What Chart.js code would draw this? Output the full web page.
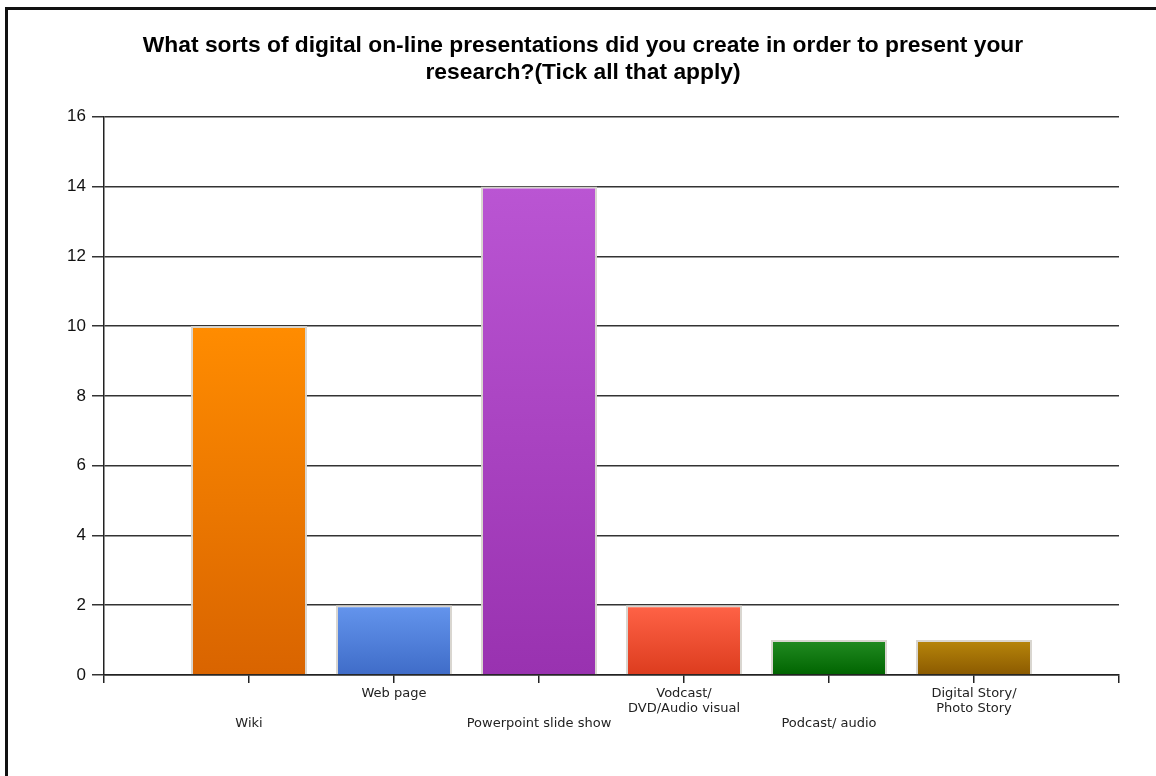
<!DOCTYPE html>
<html>
<head>
<meta charset="utf-8">
<title>Digital on-line presentations</title>
<script src="https://cdn.jsdelivr.net/npm/chart.js@4.4.0/dist/chart.umd.min.js"></script>
<style>
  html, body { margin: 0; padding: 0; background: #fff; overflow: hidden; }
  #frame { position: absolute; left: 5px; top: 7px; width: 1200px; height: 800px; border: 3px solid #111; }
  #wrap { position: absolute; left: 0; top: 0; width: 1156px; height: 776px; }
</style>
</head>
<body>
<div id="frame"></div>
<div id="wrap"><canvas id="presentationsChart"></canvas></div>
<script>
// survey answers (ticked counts)
const categories = [
  ["", "", "Wiki"],
  ["Web page"],
  ["", "", "Powerpoint slide show"],
  ["Vodcast/", "DVD/Audio visual"],
  ["", "", "Podcast/ audio"],
  ["Digital Story/", "Photo Story"]
];
const counts = [10, 2, 14, 2, 1, 1];
const topColors = ["#ff8c00", "#6495ed", "#ba55d3", "#ff6347", "#228b22", "#b8860b"];
const bottomColors = ["#d96400", "#3f6cc8", "#9932b0", "#dc3c1e", "#006400", "#8b5a00"];
const yTicks = [0, 2, 4, 6, 8, 10, 12, 14, 16];

// empty slot on each side so the bars sit on the inner ticks
const labels = [""].concat(categories, [""]);
const values = [null].concat(counts, [null]);

function barFill(ctx) {
  const i = ctx.dataIndex - 1;
  if (i < 0 || i >= counts.length) return "transparent";
  const chart = ctx.chart;
  if (!chart.chartArea) return topColors[i];
  const y = chart.scales.y;
  const g = chart.ctx.createLinearGradient(0, y.getPixelForValue(counts[i]), 0, y.getPixelForValue(0));
  g.addColorStop(0, topColors[i]);
  g.addColorStop(1, bottomColors[i]);
  return g;
}

const canvas = document.getElementById("presentationsChart");
new Chart(canvas.getContext("2d"), {
  type: "bar",
  data: {
    labels: labels,
    datasets: [{
      data: values,
      backgroundColor: barFill,
      borderColor: "rgba(215,212,205,0.95)",
      borderWidth: { top: 2, left: 2, right: 2, bottom: 0 },
      borderSkipped: false,
      categoryPercentage: 1,
      barPercentage: 0.8
    }]
  },
  options: {
    responsive: true,
    maintainAspectRatio: false,
    animation: false,
    layout: { padding: { left: 47, right: 37, top: 0, bottom: 0 } },
    plugins: {
      legend: { display: false },
      tooltip: { enabled: false },
      title: {
        display: true,
        text: [
          "What sorts of digital on-line presentations did you create in order to present your",
          "research?(Tick all that apply)"
        ],
        color: "#000",
        font: { family: "'Liberation Sans', Arial, sans-serif", size: 22.8, weight: "bold", lineHeight: 1.2 },
        padding: { top: 32, bottom: 30 }
      }
    },
    scales: {
      x: {
        offset: false,
        grid: { offset: false, drawOnChartArea: false, drawTicks: true, tickLength: 8, color: "#222", lineWidth: 1.5 },
        border: { display: true, color: "#222", width: 1.5 },
        ticks: {
          autoSkip: false,
          maxRotation: 0,
          minRotation: 0,
          padding: 3,
          color: "#222",
          font: { family: "'DejaVu Sans', Verdana, sans-serif", size: 13, lineHeight: "15px" }
        },
        afterFit: scale => { scale.height = 101; }
      },
      y: {
        min: 0,
        max: 16,
        afterBuildTicks: scale => { scale.ticks = yTicks.map(v => ({ value: v })); },
        grid: { color: "#333", lineWidth: 1.5, tickLength: 12 },
        border: { display: true, color: "#222", width: 1.5 },
        ticks: {
          padding: 6,
          color: "#111",
          font: { family: "'Liberation Sans', Arial, sans-serif", size: 17 }
        },
        afterFit: scale => { scale.width = 57; }
      }
    }
  }
});
</script>
</body>
</html>
